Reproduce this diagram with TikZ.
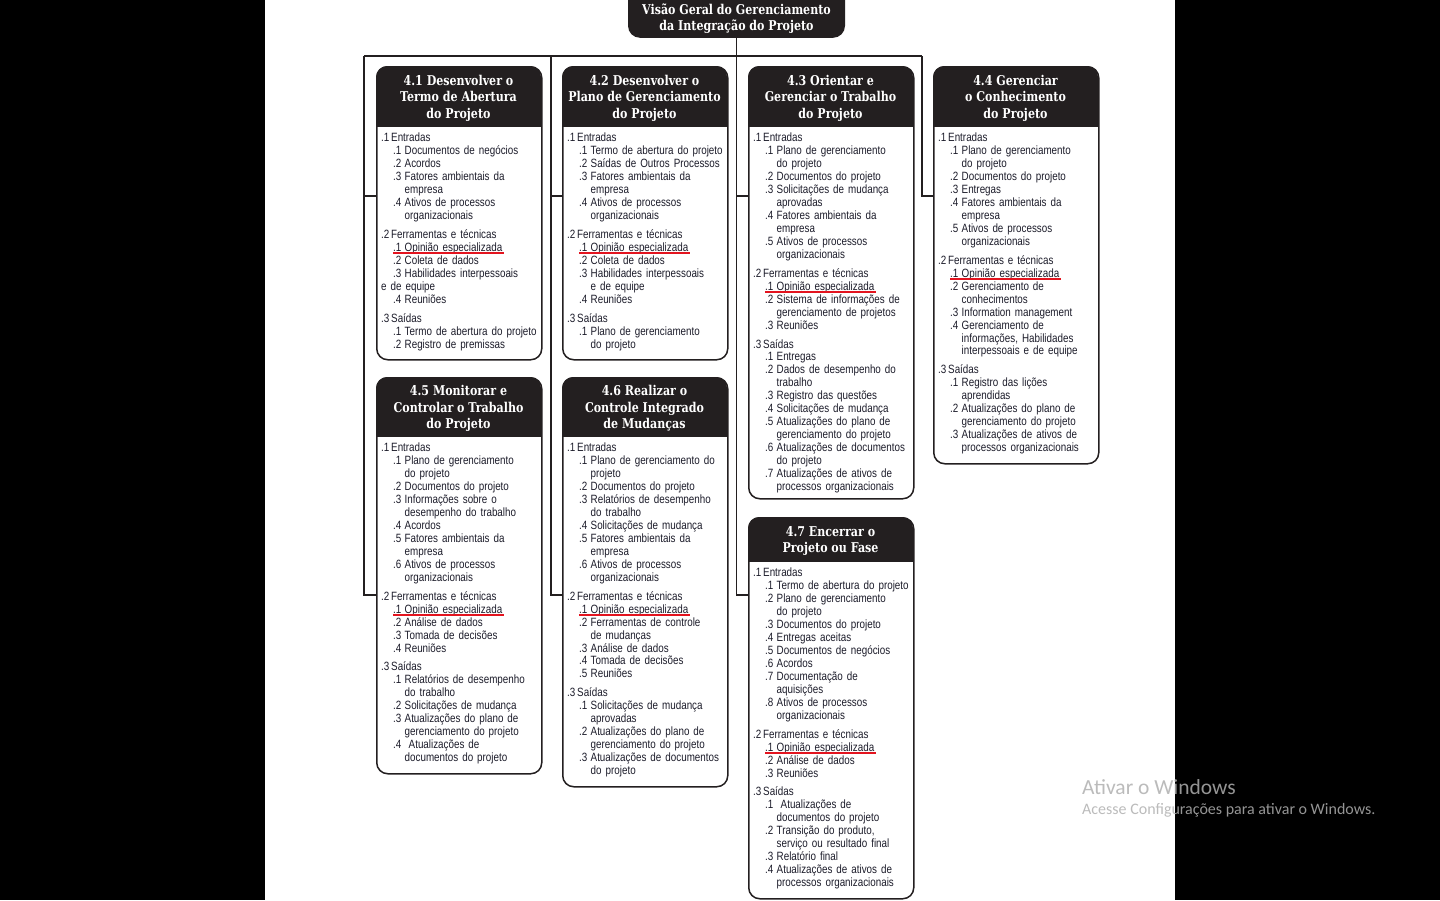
\documentclass[tikz,border=0pt]{standalone}
\usepackage{fontspec}
\setmainfont{Liberation Sans}[FakeStretch=0.82,WordSpace=0.8]
\newfontfamily\hdrfamily{DejaVu Serif}[FakeStretch=0.82]
\newfontfamily\wmfamily{Carlito}
\definecolor{hdrc}{HTML}{231F20}
\definecolor{txtc}{HTML}{1C1C2A}
\definecolor{redc}{HTML}{E3141F}
\definecolor{wmc}{HTML}{AFAFAF}
\newcommand\secx[2]{\par\noindent\makebox[10pt][l]{#1}#2}
\newcommand\itmx[2]{\par\noindent\hspace*{12pt}\makebox[11.5pt][l]{#1}#2}
\newcommand\nx{\par\noindent\hspace*{23.5pt}}
\newcommand\itmr[2]{\par\noindent\hspace*{12pt}\sbox0{\makebox[11.5pt][l]{#1}#2}\usebox0\llap{\textcolor{redc}{\rule[-2.6pt]{\dimexpr\wd0+2pt\relax}{2.2pt}\hspace*{-2pt}}}}
\newcommand\gapx{\par\vspace{6pt}}
\newcommand\pbox[7]{%
  \begin{scope}
    \clip (#2,#3) rectangle ({#2+165},#4);
    \fill[hdrc, rounded corners=11pt] (#2,#3) rectangle ({#2+165},{#4+20});
  \end{scope}
  \node[frame, minimum height={#5-#3}, anchor=north west] (#1) at (#2,#3) {};
  \node[hdrtext] (#1h) at ({#2+82.5},{(#3+#4)/2+2}) {#6};
  \node[bodytext] (#1b) at ({#2+5},{#4+2.6}) {#7};
}
\begin{document}
\begin{tikzpicture}[x=1pt,y=-1pt,
  frame/.style={draw=hdrc, line width=1.5pt, rounded corners=11pt, minimum width=165pt, inner sep=0pt},
  hdrtext/.style={text=white, align=center, inner sep=0pt, font=\hdrfamily\bfseries\fontsize{13.5}{16.5}\selectfont},
  bodytext/.style={anchor=north west, inner sep=0pt, text width=200pt, align=left, text=txtc, font=\fontsize{12}{12.95}\selectfont},
  conn/.style={draw=hdrc, line width=1.9pt},
  wm/.style={anchor=west, inner sep=0pt, text=wmc, opacity=0.85, font=\wmfamily}]
\useasboundingbox (0,0) rectangle (1440,900);
\fill[black] (0,0) rectangle (265,900);
\fill[black] (1175,0) rectangle (1440,900);

% top node
\node[fill=hdrc, rounded corners=12pt, minimum width=217pt, minimum height=55pt, anchor=south, inner sep=0pt,
      text=white, font=\hdrfamily\bfseries\fontsize{13.5}{16.5}\selectfont] (top) at (736.5,38)
  {\raisebox{-9pt}[\height][\depth]{\begin{tabular}{@{}c@{}}Visão Geral do Gerenciamento\\da Integração do Projeto\end{tabular}}};

\pbox{b41}{376}{66}{126}{359}{4.1 Desenvolver o\\Termo de Abertura\\do Projeto}{%
\secx{.1}{Entradas}
\itmx{.1}{Documentos de negócios}
\itmx{.2}{Acordos}
\itmx{.3}{Fatores ambientais da}\nx empresa
\itmx{.4}{Ativos de processos}\nx organizacionais
\gapx
\secx{.2}{Ferramentas e técnicas}
\itmr{.1}{Opinião especializada}
\itmx{.2}{Coleta de dados}
\itmx{.3}{Habilidades interpessoais}
\par\noindent e de equipe
\itmx{.4}{Reuniões}
\gapx
\secx{.3}{Saídas}
\itmx{.1}{Termo de abertura do projeto}
\itmx{.2}{Registro de premissas}}

\pbox{b42}{562}{66}{126}{359}{4.2 Desenvolver o\\Plano de Gerenciamento\\do Projeto}{%
\secx{.1}{Entradas}
\itmx{.1}{Termo de abertura do projeto}
\itmx{.2}{Saídas de Outros Processos}
\itmx{.3}{Fatores ambientais da}\nx empresa
\itmx{.4}{Ativos de processos}\nx organizacionais
\gapx
\secx{.2}{Ferramentas e técnicas}
\itmr{.1}{Opinião especializada}
\itmx{.2}{Coleta de dados}
\itmx{.3}{Habilidades interpessoais}\nx e de equipe
\itmx{.4}{Reuniões}
\gapx
\secx{.3}{Saídas}
\itmx{.1}{Plano de gerenciamento}\nx do projeto}

\pbox{b43}{748}{66}{126}{498}{4.3 Orientar e\\Gerenciar o Trabalho\\do Projeto}{%
\secx{.1}{Entradas}
\itmx{.1}{Plano de gerenciamento}\nx do projeto
\itmx{.2}{Documentos do projeto}
\itmx{.3}{Solicitações de mudança}\nx aprovadas
\itmx{.4}{Fatores ambientais da}\nx empresa
\itmx{.5}{Ativos de processos}\nx organizacionais
\gapx
\secx{.2}{Ferramentas e técnicas}
\itmr{.1}{Opinião especializada}
\itmx{.2}{Sistema de informações de}\nx gerenciamento de projetos
\itmx{.3}{Reuniões}
\gapx
\secx{.3}{Saídas}
\itmx{.1}{Entregas}
\itmx{.2}{Dados de desempenho do}\nx trabalho
\itmx{.3}{Registro das questões}
\itmx{.4}{Solicitações de mudança}
\itmx{.5}{Atualizações do plano de}\nx gerenciamento do projeto
\itmx{.6}{Atualizações de documentos}\nx do projeto
\itmx{.7}{Atualizações de ativos de}\nx processos organizacionais}

\pbox{b44}{933}{66}{126}{463}{4.4 Gerenciar\\o Conhecimento\\do Projeto}{%
\secx{.1}{Entradas}
\itmx{.1}{Plano de gerenciamento}\nx do projeto
\itmx{.2}{Documentos do projeto}
\itmx{.3}{Entregas}
\itmx{.4}{Fatores ambientais da}\nx empresa
\itmx{.5}{Ativos de processos}\nx organizacionais
\gapx
\secx{.2}{Ferramentas e técnicas}
\itmr{.1}{Opinião especializada}
\itmx{.2}{Gerenciamento de}\nx conhecimentos
\itmx{.3}{Information management}
\itmx{.4}{Gerenciamento de}\nx informações, Habilidades\nx interpessoais e de equipe
\gapx
\secx{.3}{Saídas}
\itmx{.1}{Registro das lições}\nx aprendidas
\itmx{.2}{Atualizações do plano de}\nx gerenciamento do projeto
\itmx{.3}{Atualizações de ativos de}\nx processos organizacionais}

\pbox{b45}{376}{377}{436}{773}{4.5 Monitorar e\\Controlar o Trabalho\\do Projeto}{%
\secx{.1}{Entradas}
\itmx{.1}{Plano de gerenciamento}\nx do projeto
\itmx{.2}{Documentos do projeto}
\itmx{.3}{Informações sobre o}\nx desempenho do trabalho
\itmx{.4}{Acordos}
\itmx{.5}{Fatores ambientais da}\nx empresa
\itmx{.6}{Ativos de processos}\nx organizacionais
\gapx
\secx{.2}{Ferramentas e técnicas}
\itmr{.1}{Opinião especializada}
\itmx{.2}{Análise de dados}
\itmx{.3}{Tomada de decisões}
\itmx{.4}{Reuniões}
\gapx
\secx{.3}{Saídas}
\itmx{.1}{Relatórios de desempenho}\nx do trabalho
\itmx{.2}{Solicitações de mudança}
\itmx{.3}{Atualizações do plano de}\nx gerenciamento do projeto
\itmx{.4}{\ Atualizações de}\nx documentos do projeto}

\pbox{b46}{562}{377}{436}{786}{4.6 Realizar o\\Controle Integrado\\de Mudanças}{%
\secx{.1}{Entradas}
\itmx{.1}{Plano de gerenciamento do}\nx projeto
\itmx{.2}{Documentos do projeto}
\itmx{.3}{Relatórios de desempenho}\nx do trabalho
\itmx{.4}{Solicitações de mudança}
\itmx{.5}{Fatores ambientais da}\nx empresa
\itmx{.6}{Ativos de processos}\nx organizacionais
\gapx
\secx{.2}{Ferramentas e técnicas}
\itmr{.1}{Opinião especializada}
\itmx{.2}{Ferramentas de controle}\nx de mudanças
\itmx{.3}{Análise de dados}
\itmx{.4}{Tomada de decisões}
\itmx{.5}{Reuniões}
\gapx
\secx{.3}{Saídas}
\itmx{.1}{Solicitações de mudança}\nx aprovadas
\itmx{.2}{Atualizações do plano de}\nx gerenciamento do projeto
\itmx{.3}{Atualizações de documentos}\nx do projeto}

\pbox{b47}{748}{517}{561}{898}{4.7 Encerrar o\\Projeto ou Fase}{%
\secx{.1}{Entradas}
\itmx{.1}{Termo de abertura do projeto}
\itmx{.2}{Plano de gerenciamento}\nx do projeto
\itmx{.3}{Documentos do projeto}
\itmx{.4}{Entregas aceitas}
\itmx{.5}{Documentos de negócios}
\itmx{.6}{Acordos}
\itmx{.7}{Documentação de}\nx aquisições
\itmx{.8}{Ativos de processos}\nx organizacionais
\gapx
\secx{.2}{Ferramentas e técnicas}
\itmr{.1}{Opinião especializada}
\itmx{.2}{Análise de dados}
\itmx{.3}{Reuniões}
\gapx
\secx{.3}{Saídas}
\itmx{.1}{\ Atualizações de}\nx documentos do projeto
\itmx{.2}{Transição do produto,}\nx serviço ou resultado final
\itmx{.3}{Relatório final}
\itmx{.4}{Atualizações de ativos de}\nx processos organizacionais}

% connectors
\coordinate (h1) at (364,56);
\coordinate (h2) at (551,56);
\coordinate (h4) at (922,56);
\draw[conn] (h1) -- (h4);
\draw[conn] (h1) |- ([yshift=-130pt]b41.north west);
\draw[conn] (h1) |- ([yshift=-218pt]b45.north west);
\draw[conn] (h2) |- ([yshift=-130pt]b42.north west);
\draw[conn] (h2) |- ([yshift=-218pt]b46.north west);
\draw[conn] (top.south) |- ([yshift=-130pt]b43.north west);
\draw[conn] (top.south) |- ([yshift=-78pt]b47.north west);
\draw[conn] (h4) |- ([yshift=-130pt]b44.north west);

% watermark
\node[wm, font=\wmfamily\fontsize{21.5}{23}\selectfont] (wm1) at (1082,787) {Ativar o Windows};
\node[wm, font=\wmfamily\fontsize{16}{18}\selectfont] (wm2) at (1082,810) {Acesse Configurações para ativar o Windows.};
\end{tikzpicture}
\end{document}
